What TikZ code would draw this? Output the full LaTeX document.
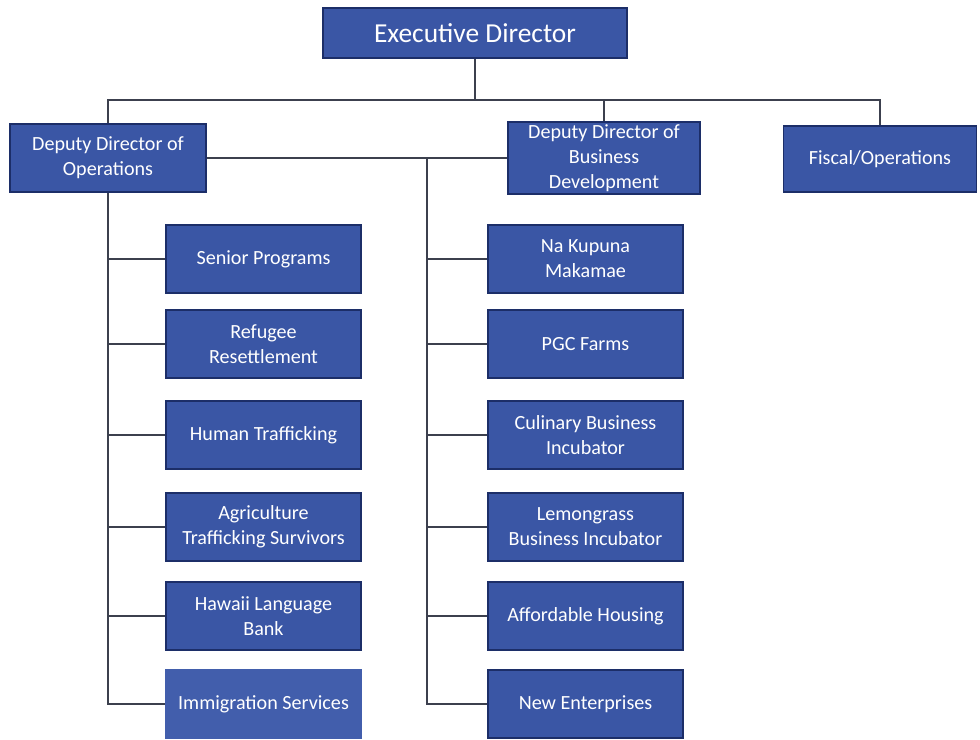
\documentclass[tikz,border=0pt]{standalone}
\usepackage{fontspec}
\setmainfont{Carlito}
\usepackage{xcolor}
\usetikzlibrary{positioning, calc}
\definecolor{boxblue}{RGB}{58,86,165}
\definecolor{boxedge}{RGB}{28,46,104}
\definecolor{lightblue}{RGB}{66,94,172}
\definecolor{linegray}{RGB}{60,64,78}

\begin{document}
\begin{tikzpicture}[
    x=0.025cm, y=-0.025cm,
    unit/.style ={draw=boxedge, fill=boxblue, line width=1.2pt, align=center,
                  text=white, inner sep=2pt, minimum width=4.875cm,
                  minimum height=1.7cm, font=\fontsize{14.3}{17.7}\selectfont},
    head/.style ={unit, minimum width=7.6cm, minimum height=1.25cm,
                  font=\fontsize{19.5}{23}\selectfont},
    soft/.style ={unit, draw=lightblue, fill=lightblue},
    link/.style ={draw=linegray, line width=0.8pt},
]
\useasboundingbox (0,0) rectangle (980,740);
% top of the chart
\node[head] (edir) at (475,33) {Executive Director};
\node[unit, minimum width=4.9cm] (dops) at (108,158) {Deputy Director of\\Operations};
\node[unit, minimum width=4.8cm] (dbiz) at (604,158) {Deputy Director of\\Business\\Development};
\node[unit, minimum width=4.825cm, minimum height=1.65cm] (fisc) at (880,159) {Fiscal/Operations};
% operations column
\node[unit] (senior) at (263.5,259) {Senior Programs};
\node[unit] (refug)  at (263.5,344) {Refugee\\Resettlement};
\node[unit] (human)  at (263.5,435) {Human Trafficking};
\node[unit] (agri)   at (263.5,527) {Agriculture\\Trafficking Survivors};
\node[unit] (lang)   at (263.5,616) {Hawaii Language\\Bank};
\node[soft] (immig)  at (263.5,704) {Immigration Services};
% business column
\node[unit] (kupuna) at (585.5,259) {Na Kupuna\\Makamae};
\node[unit] (farms)  at (585.5,344) {PGC Farms};
\node[unit] (culin)  at (585.5,435) {Culinary Business\\Incubator};
\node[unit] (lemon)  at (585.5,527) {Lemongrass\\Business Incubator};
\node[unit] (house)  at (585.5,616) {Affordable Housing};
\node[unit] (newent) at (585.5,704) {New Enterprises};
% connectors
\coordinate (bus) at (475,100);
\coordinate (rsp) at (427,158);
\draw[link] (edir.south) -- (bus);
\draw[link] (dops.north) |- (fisc.north |- bus) -- (fisc.north);
\draw[link] (dbiz.north) -- (dbiz.north |- bus);
\draw[link] (dops.east) -- (dbiz.west);
\draw[link] (dops.south) |- (immig.west);
\draw[link] (dops.south |- senior.west) -- (senior.west);
\draw[link] (dops.south |- refug.west) -- (refug.west);
\draw[link] (dops.south |- human.west) -- (human.west);
\draw[link] (dops.south |- agri.west) -- (agri.west);
\draw[link] (dops.south |- lang.west) -- (lang.west);
\draw[link] (rsp) |- (newent.west);
\draw[link] (rsp |- kupuna.west) -- (kupuna.west);
\draw[link] (rsp |- farms.west) -- (farms.west);
\draw[link] (rsp |- culin.west) -- (culin.west);
\draw[link] (rsp |- lemon.west) -- (lemon.west);
\draw[link] (rsp |- house.west) -- (house.west);
\end{tikzpicture}
\end{document}
